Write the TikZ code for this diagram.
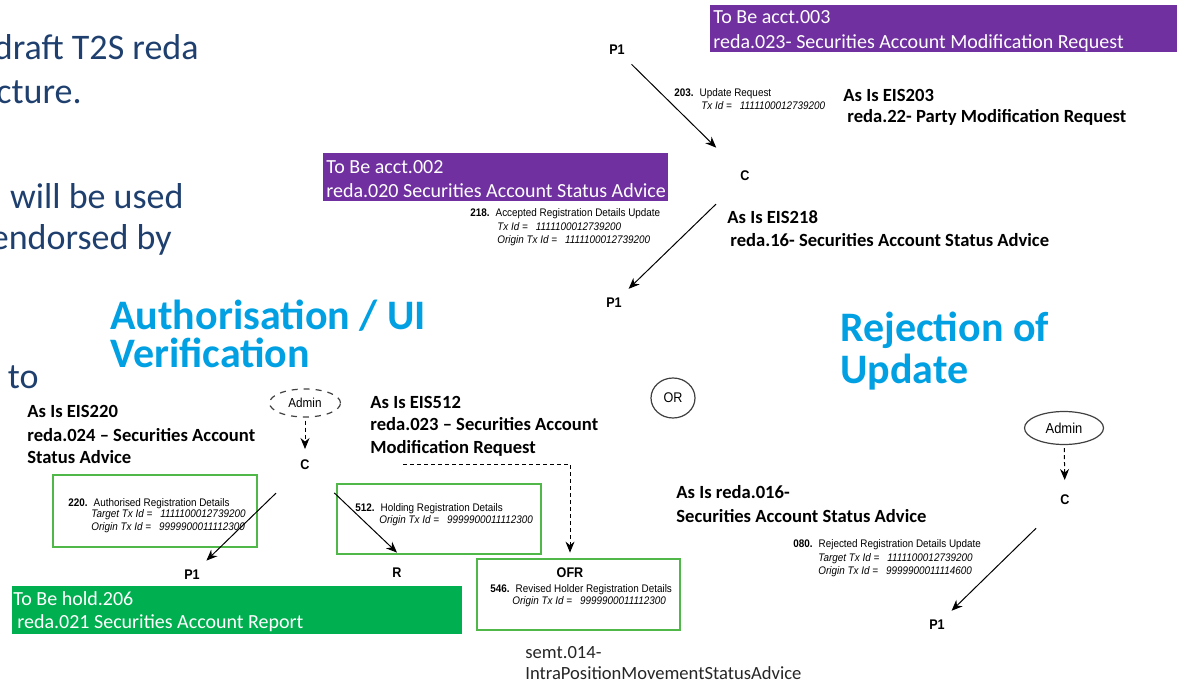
\documentclass[tikz,border=0pt]{standalone}
\usepackage{fontspec}
\setmainfont{Carlito}
\newfontfamily\diagfont[FakeStretch=0.9]{Liberation Sans}
\usetikzlibrary{arrows.meta,shapes.geometric}
\definecolor{slideblue}{RGB}{31,64,110}
\definecolor{headblue}{RGB}{0,160,226}
\definecolor{tobepurple}{RGB}{112,48,160}
\definecolor{tobegreen}{RGB}{0,176,80}
\definecolor{boxgreen}{RGB}{80,184,72}

\begin{document}
\begin{tikzpicture}[x=0.5pt,y=-0.5pt,
    every node/.style={inner sep=0pt},
    slide/.style={anchor=base east,text=slideblue,font=\fontsize{18}{22}\selectfont},
    heading/.style={anchor=base west,text=headblue,font=\bfseries\fontsize{21}{25}\selectfont},
    asis/.style={anchor=base west,font=\bfseries\fontsize{9.3}{11}\selectfont},
    tobe/.style={anchor=base west,text=white,font=\fontsize{10}{12}\selectfont},
    note/.style={anchor=base west,text=black!85,font=\fontsize{9.3}{11}\selectfont},
    msg/.style={anchor=base west,font=\diagfont\fontsize{5.5}{6}\selectfont},
    txid/.style={anchor=base west,font=\diagfont\itshape\fontsize{5.5}{6}\selectfont},
    party/.style={circle,minimum size=20pt,font=\diagfont\bfseries\fontsize{7}{8}\selectfont},
    hub/.style={party,minimum size=40pt},
    actor/.style={ellipse,draw=black!75,line width=0.6pt,font=\diagfont\fontsize{6.5}{7}\selectfont},
    msgbox/.style={draw=boxgreen,line width=1pt},
    flow/.style={line width=0.5pt,-{Stealth[length=5.5pt,width=4.5pt]}},
    dashflow/.style={flow,dash pattern=on 2pt off 1.5pt}
]
    \useasboundingbox (0,0) rectangle (1177,680);

    % slide text behind the diagram
    \node[slide] (s1) at (199,59) {draft T2S reda};
    \node[slide] (s2) at (82,103) {cture.};
    \node[slide] (s3) at (184,208) {will be used};
    \node[slide] (s4) at (172,249) {endorsed by};
    \node[slide] (s5) at (39,388) {to};
    \node[heading] (h1) at (110,329) {Authorisation / UI};
    \node[heading] (h2) at (110,367) {Verification};
    \node[heading] (h3) at (840,341) {Rejection of};
    \node[heading] (h4) at (840,383) {Update};

    % to be messages
    \fill[tobepurple] (710,5) rectangle (1180,52);
    \node[tobe] (tb003) at (713,24) {To Be acct.003};
    \node[tobe] (tb003b) at (713,48) {reda.023- Securities Account Modification Request};
    \fill[tobepurple] (323,153) rectangle (668,201);
    \node[tobe] (tb002) at (326,173) {To Be acct.002};
    \node[tobe] (tb002b) at (326,197) {reda.020 Securities Account Status Advice};
    \fill[tobegreen] (12,586) rectangle (462,634);
    \node[tobe] (tb206) at (13,605) {To Be hold.206};
    \node[tobe] (tb206b) at (17,628) {reda.021 Securities Account Report};

    % as is messages
    \node[asis] (a203) at (843,101) {As Is EIS203};
    \node[asis] (a203b) at (847,122) {reda.22- Party Modification Request};
    \node[asis] (a218) at (727,223) {As Is EIS218};
    \node[asis] (a218b) at (730,246) {reda.16- Securities Account Status Advice};
    \node[asis] (a220) at (27,417) {As Is EIS220};
    \node[asis] (a220b) at (27,441) {reda.024 -- Securities Account};
    \node[asis] (a220c) at (27,463) {Status Advice};
    \node[asis] (a512) at (370,408) {As Is EIS512};
    \node[asis] (a512b) at (370,430) {reda.023 -- Securities Account};
    \node[asis] (a512c) at (370,453) {Modification Request};
    \node[asis] (a016) at (676,498) {As Is reda.016-};
    \node[asis] (a016b) at (676,522) {Securities Account Status Advice};
    \node[note] (semt) at (525,658) {semt.014-};
    \node[note] (semtb) at (525,679) {IntraPositionMovementStatusAdvice};

    % update request
    \node[party] (p1a) at (617,50) {P1};
    \node[hub] (ca) at (745,176) {C};
    \node[party] (p1b) at (614,303) {P1};
    \node[msg] (m203) at (674,96) {\textbf{203.}\hspace{3pt}Update Request};
    \node[txid] (t203) at (701,109) {Tx Id =\hspace{4pt}1111100012739200};
    \node[msg] (m218) at (470,216) {\textbf{218.}\hspace{3pt}Accepted Registration Details Update};
    \node[txid] (t218) at (497,230) {Tx Id =\hspace{4pt}1111100012739200};
    \node[txid] (o218) at (497,243) {Origin Tx Id =\hspace{4pt}1111100012739200};
    \draw[flow] (p1a) -- (ca);
    \draw[flow] (ca) -- (p1b);

    % authorisation
    \node[msgbox,minimum width=102pt,minimum height=36pt] (box220) at (155,511) {};
    \node[msgbox,minimum width=102pt,minimum height=35pt] (box512) at (439,519) {};
    \node[msgbox,minimum width=101.5pt,minimum height=35.5pt] (boxofr) at (578.5,594.5) {};
    \node[actor,dashed,minimum width=35.5pt,minimum height=14pt] (adminl) at (305,403) {Admin};
    \node[hub] (cb) at (305,465) {C};
    \node[party] (p1c) at (192,575) {P1};
    \node[party] (rr) at (397,573) {R};
    \node[party] (ofr) at (570,573) {OFR};
    \node[msg] (m220) at (68,506) {\textbf{220.}\hspace{3pt}Authorised Registration Details};
    \node[txid] (t220) at (91,517) {Target Tx Id =\hspace{4pt}1111100012739200};
    \node[txid] (o220) at (91,530) {Origin Tx Id =\hspace{4pt}9999900011112300};
    \node[msg] (m512) at (355,511) {\textbf{512.}\hspace{3pt}Holding Registration Details};
    \node[txid] (o512) at (379,523) {Origin Tx Id =\hspace{4pt}9999900011112300};
    \node[msg] (m546) at (490,592) {\textbf{546.}\hspace{3pt}Revised Holder Registration Details};
    \node[txid] (o546) at (512,604) {Origin Tx Id =\hspace{4pt}9999900011112300};
    \coordinate (ofrfrom) at (403,464);
    \coordinate (ofrbend) at (570,464);
    \draw[dashflow,shorten <=1.5pt,shorten >=8pt] (adminl) -- (cb.center);
    \draw[flow] (cb) -- (p1c.north east);
    \draw[flow] (cb) -- (rr.north);
    \draw[dashflow] (ofrfrom) -- (ofrbend) -- (ofr);

    \node[actor,minimum width=22pt,minimum height=20pt,font=\diagfont\fontsize{7}{8}\selectfont] (orsplit) at (673,398) {OR};

    % rejection
    \node[actor,minimum width=39.5pt,minimum height=16.5pt,font=\diagfont\fontsize{7.2}{8}\selectfont] (adminr) at (1064,428) {Admin};
    \node[hub] (cc) at (1065,500) {C};
    \node[party] (p1d) at (937,625) {P1};
    \node[msg] (m080) at (793,547) {\textbf{080.}\hspace{3pt}Rejected Registration Details Update};
    \node[txid] (t080) at (818,561) {Target Tx Id =\hspace{4pt}1111100012739200};
    \node[txid] (o080) at (818,574) {Origin Tx Id =\hspace{4pt}9999900011114600};
    \draw[dashflow,shorten <=1.5pt,shorten >=10pt] (adminr) -- (cc.center);
    \draw[flow] (cc) -- (p1d);
\end{tikzpicture}
\end{document}
